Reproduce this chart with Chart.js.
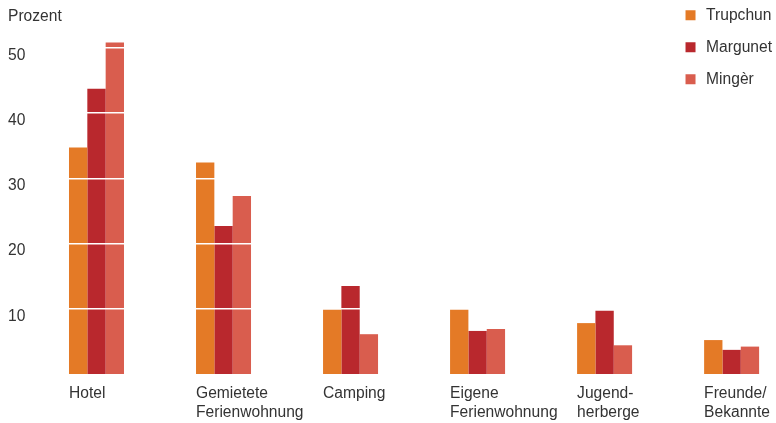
<!DOCTYPE html>
<html><head><meta charset="utf-8">
<script src="https://cdn.jsdelivr.net/npm/chart.js@4"></script>
<style>html,body{margin:0;padding:0;background:#fff}#wrap{width:776px;height:423px;position:relative}</style>
</head><body><div id="wrap"><canvas id="c"></canvas></div>
<script>
const categories = ['Hotel', 'Gemietete Ferienwohnung', 'Camping', 'Eigene Ferienwohnung', 'Jugendherberge', 'Freunde/Bekannte'];
const xTickLabels = ['Hotel', ['Gemietete', 'Ferienwohnung'], 'Camping', ['Eigene', 'Ferienwohnung'], ['Jugend-', 'herberge'], ['Freunde/', 'Bekannte']];
const seriesNames = ['Trupchun', 'Margunet', 'Mingèr'];
const trupchun = [34.7, 32.4, 9.9, 9.9, 7.8, 5.2];
const margunet = [43.7, 22.7, 13.5, 6.6, 9.7, 3.7];
const minger   = [50.8, 27.3, 6.1, 6.9, 4.4, 4.2];
const yTickValues = [10, 20, 30, 40, 50];
const yTitle = 'Prozent';

const FAMILY = '"Liberation Sans", Arial, Helvetica, sans-serif';
const TEXT = '#333333';
const colors = ['#E47A26', '#B9282D', '#D95D4E'];
const seriesValues = [trupchun, margunet, minger];

const datasets = seriesNames.map((name, k) => ({
  label: name,
  data: seriesValues[k].map((v, i) => ({ x: i, y: v })),
  backgroundColor: colors[k],
  borderWidth: 0,
  clip: false,
  categoryPercentage: 0.433,
  barPercentage: 1
}));

new Chart(document.getElementById('c'), {
  type: 'bar',
  data: { datasets },
  options: {
    responsive: true,
    maintainAspectRatio: false,
    animation: false,
    layout: { padding: { top: -9, left: 8, right: -6, bottom: 0 } },
    plugins: {
      title: {
        display: true, text: yTitle, align: 'start', color: TEXT,
        font: { size: 15.6, weight: 'normal', family: FAMILY },
        padding: { top: 16, bottom: 9 }
      },
      legend: {
        position: 'right', align: 'start',
        labels: {
          usePointStyle: true, pointStyle: 'rect', boxWidth: 16, boxHeight: 10,
          padding: 16.4, color: TEXT, font: { size: 15.6, family: FAMILY }
        }
      },
      tooltip: { enabled: false }
    },
    scales: {
      x: {
        type: 'linear', offset: false, min: -0.2873, max: 4.486,
        grid: { display: false, drawTicks: false, offset: false }, border: { display: false },
        ticks: {
          autoSkip: false, maxRotation: 0, minRotation: 0, align: 'start',
          labelOffset: -27.5, padding: 10, color: TEXT,
          font: { size: 15.6, family: FAMILY, lineHeight: 1.23 },
          callback: (v) => xTickLabels[Math.round(v)]
        },
        afterBuildTicks: (s) => { s.ticks = categories.map((_, i) => ({ value: i })); },
        afterFit: (s) => { s.height = 49; s.paddingLeft = 0; s.paddingRight = 0; }
      },
      y: {
        min: 0, max: 52,
        grid: { color: '#ffffff', lineWidth: 1.5, z: 1, drawTicks: false },
        border: { display: false },
        ticks: {
          crossAlign: 'far', labelOffset: 7.5, color: TEXT,
          font: { size: 15.6, family: FAMILY }
        },
        afterBuildTicks: (s) => { s.ticks = yTickValues.map(v => ({ value: v })); },
        afterFit: (s) => { s.width = 52; }
      }
    }
  }
});
</script>
</body></html>
